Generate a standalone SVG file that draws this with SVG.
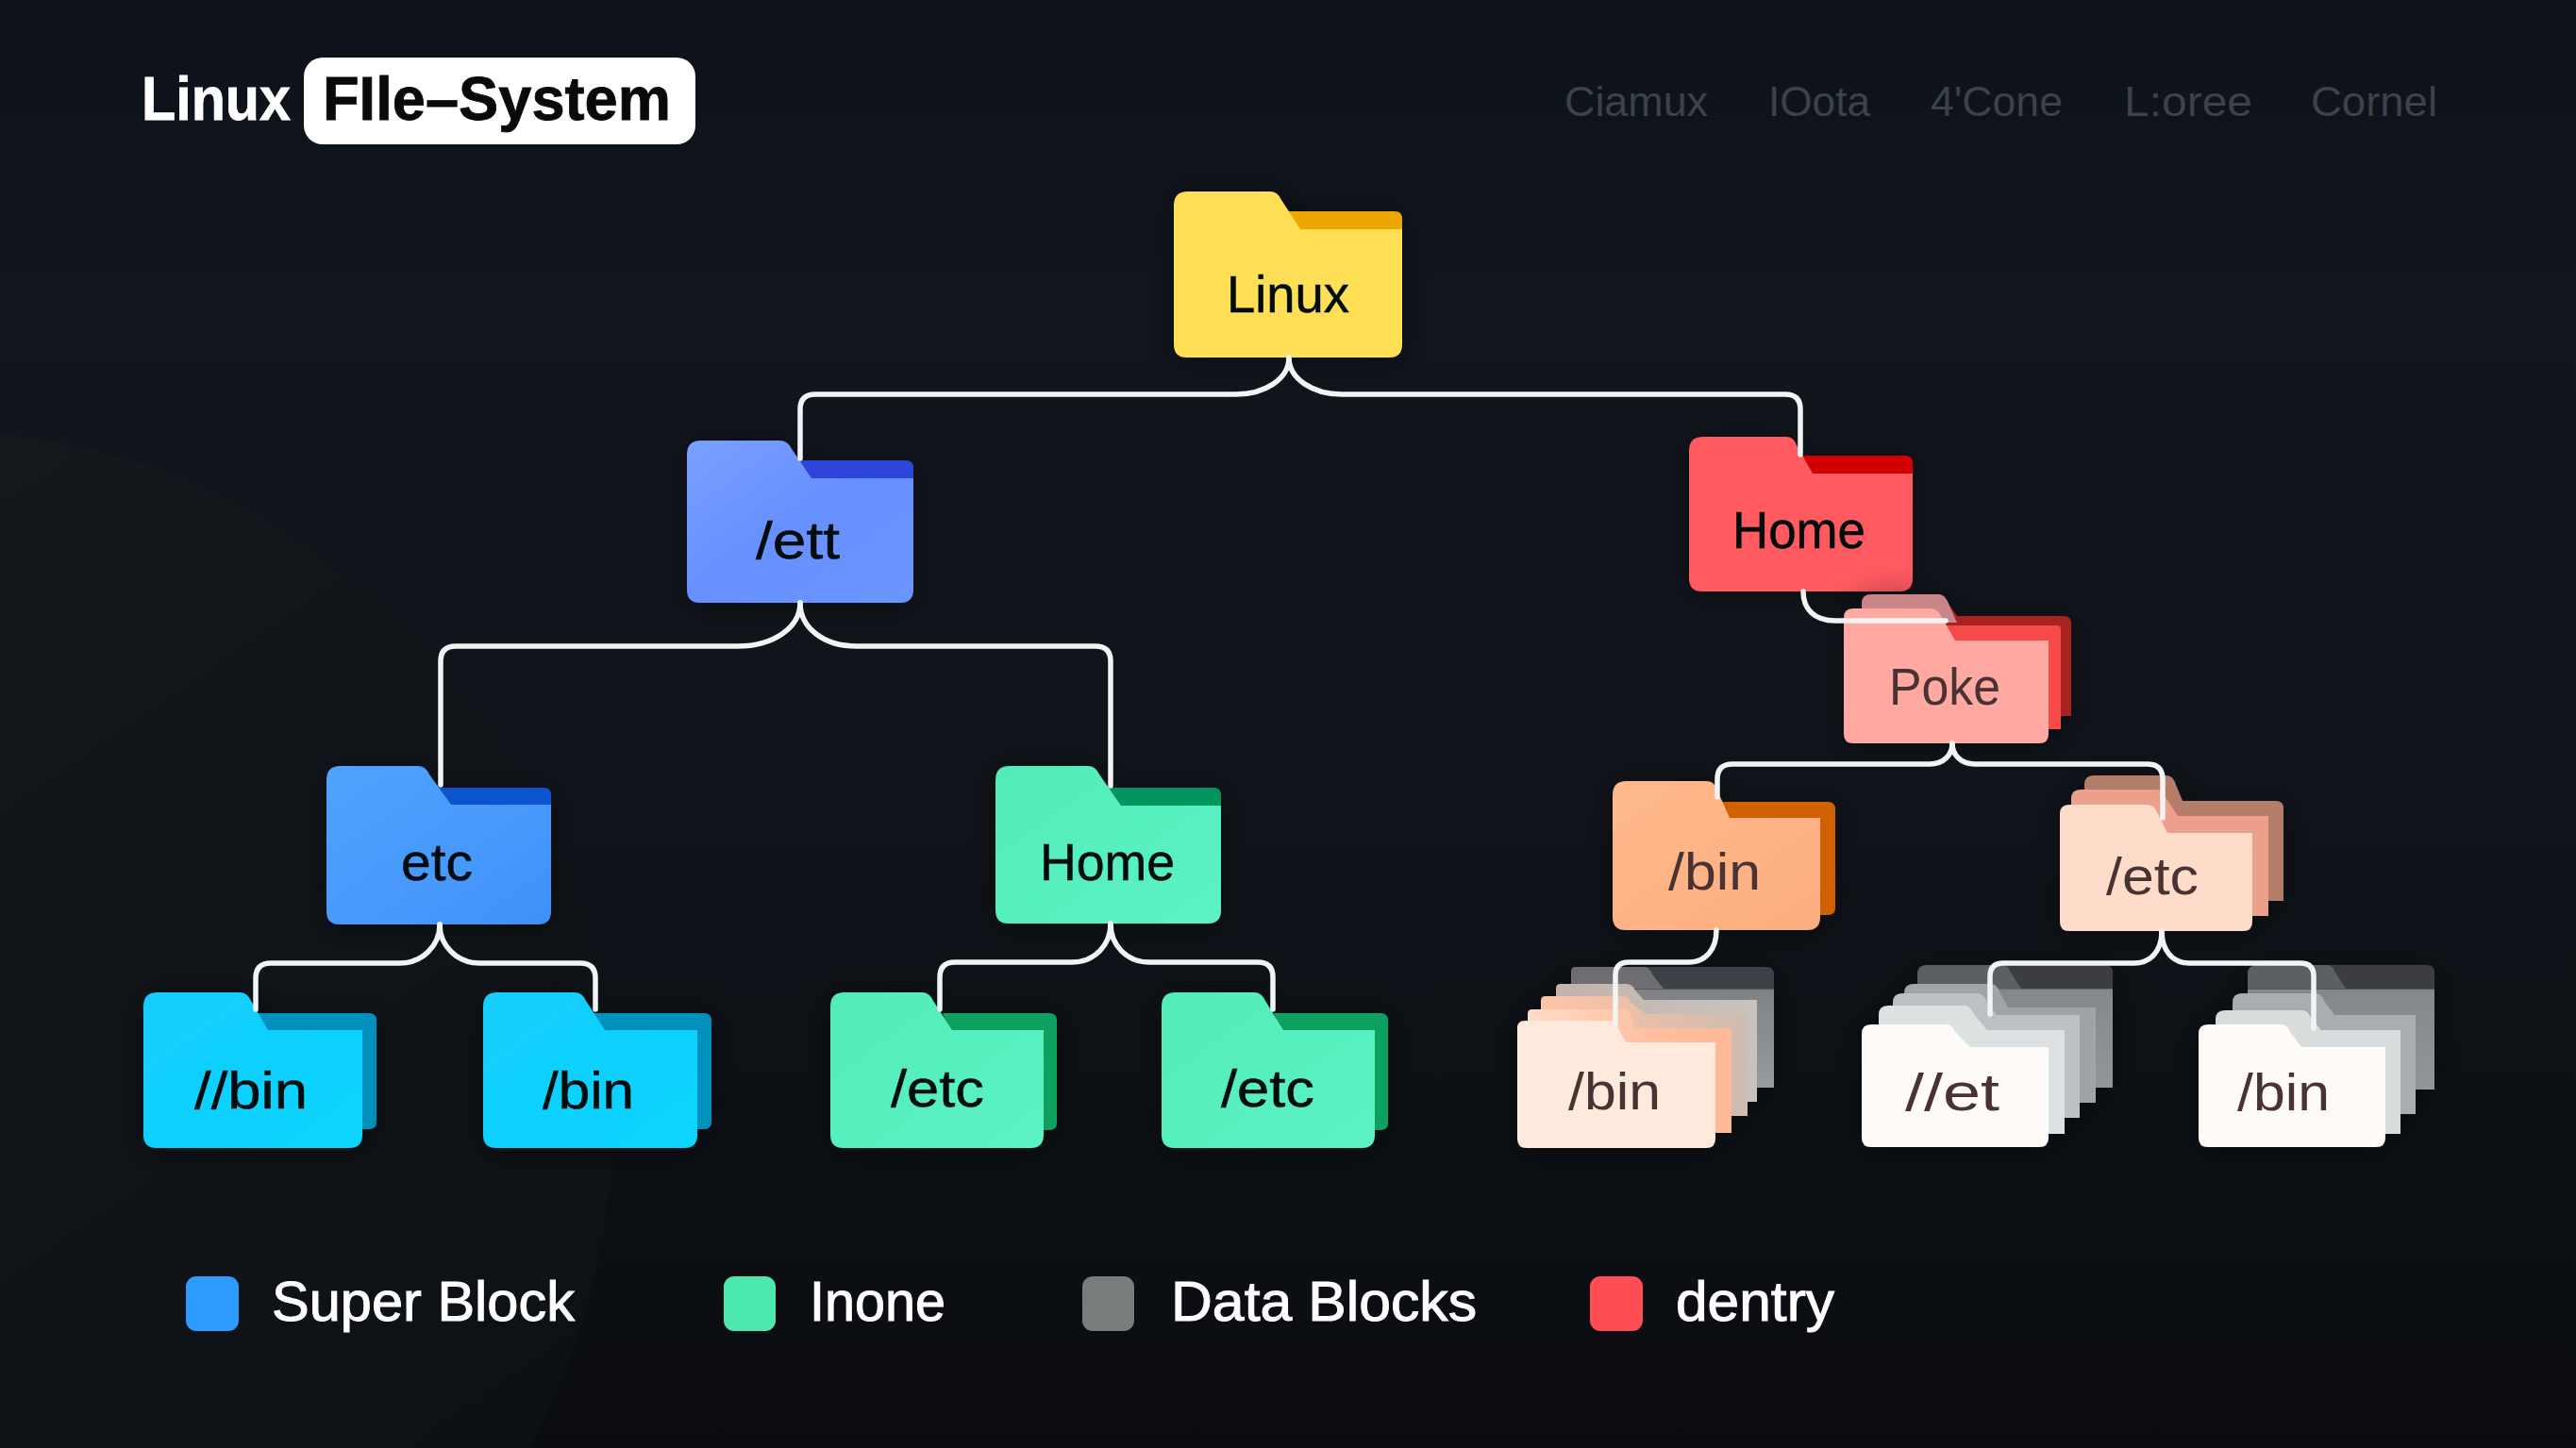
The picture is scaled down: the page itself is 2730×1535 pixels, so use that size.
<svg xmlns="http://www.w3.org/2000/svg" width="2730" height="1535" viewBox="0 0 2730 1535">
<style>
text{font-family:"Liberation Sans",Arial,sans-serif}
.lab{font-size:55px;fill:#05080c;stroke:#05080c;stroke-width:.5}
.dim{font-size:55px;fill:#4a3033}
.nav{font-size:44px;fill:#3c414a}
.leg{font-size:59px;fill:#fff;stroke:#fff;stroke-width:1}
.con{fill:none;stroke:#f1f3f4;stroke-width:5.5;stroke-linecap:round;stroke-linejoin:round}
.node{filter:url(#sh)}
</style>
<defs>
<filter id="sh" x="-15%" y="-15%" width="130%" height="130%"><feDropShadow dx="0" dy="4" stdDeviation="16" flood-color="#000" flood-opacity=".45"/></filter>
<linearGradient id="bg" x1="0" y1="0" x2="0" y2="1"><stop offset="0" stop-color="#0d1119"/><stop offset=".2" stop-color="#11151c"/><stop offset=".55" stop-color="#10141a"/><stop offset="1" stop-color="#0a0c10"/></linearGradient>
<linearGradient id="circ" x1="0" y1="0" x2="0.7" y2="1"><stop offset="0" stop-color="#181c21"/><stop offset=".5" stop-color="#11151a"/><stop offset="1" stop-color="#0d1013"/></linearGradient>
<linearGradient id="gblue" x1="0" y1="0" x2="1" y2="1"><stop offset="0" stop-color="#50a4fc"/><stop offset="1" stop-color="#3f91fb"/></linearGradient>
<linearGradient id="gett" x1="0" y1="0" x2="1" y2="1"><stop offset="0" stop-color="#7a9fff"/><stop offset=".5" stop-color="#6690ff"/><stop offset="1" stop-color="#6b96ff"/></linearGradient>
<linearGradient id="gcy" x1="0" y1="0" x2="1" y2="1"><stop offset="0" stop-color="#14cdfd"/><stop offset="1" stop-color="#0cd4ff"/></linearGradient>
<linearGradient id="ggr" x1="0" y1="0" x2="1" y2="1"><stop offset="0" stop-color="#52ecb8"/><stop offset="1" stop-color="#5cf2c4"/></linearGradient>
<linearGradient id="gor" x1="0" y1="0" x2="1" y2="1"><stop offset="0" stop-color="#ffb98c"/><stop offset="1" stop-color="#fbae80"/></linearGradient>
<linearGradient id="gp4" x1="0" y1="0" x2="0" y2="1"><stop offset=".18" stop-color="#3c3f46"/><stop offset=".19" stop-color="#7f8185"/><stop offset="1" stop-color="#9a9b9d"/></linearGradient>
<linearGradient id="gp3" x1="0" y1="0" x2="1" y2="0"><stop offset="0" stop-color="#c3b3a9"/><stop offset="1" stop-color="#c8c3bf"/></linearGradient>
<linearGradient id="gp2" x1="0" y1="0" x2="1" y2="0"><stop offset="0" stop-color="#ffc4a6"/><stop offset=".55" stop-color="#e5bfa9"/><stop offset="1" stop-color="#cdbcb1"/></linearGradient>
<linearGradient id="gp1" x1="0" y1="0" x2="1" y2="0"><stop offset="0" stop-color="#ffdcc8"/><stop offset=".6" stop-color="#ffbf9f"/><stop offset="1" stop-color="#ffb996"/></linearGradient>
<linearGradient id="g4w" x1="0" y1="0" x2="0" y2="1"><stop offset=".19" stop-color="#3a3d43"/><stop offset=".2" stop-color="#84888b"/><stop offset="1" stop-color="#90969a"/></linearGradient>
</defs>
<rect width="2730" height="1535" fill="url(#bg)"/>
<circle cx="-80" cy="1185" r="730" fill="url(#circ)"/>

<g id="title">
<text x="150" y="127" font-size="65" font-weight="700" fill="#fff" stroke="#fff" stroke-width=".8" textLength="158" lengthAdjust="spacingAndGlyphs">Linux</text>
<rect x="322" y="61" width="415" height="92" rx="20" fill="#fff"/>
<text x="342" y="127" font-size="65" font-weight="700" fill="#0a0a0a" stroke="#0a0a0a" stroke-width=".8" textLength="369" lengthAdjust="spacingAndGlyphs">FIle–System</text>
</g>
<g id="nav">
<text class="nav" x="1658" y="123" textLength="152" lengthAdjust="spacingAndGlyphs">Ciamux</text>
<text class="nav" x="1874" y="123" textLength="108" lengthAdjust="spacingAndGlyphs">IOota</text>
<text class="nav" x="2046" y="123" textLength="140" lengthAdjust="spacingAndGlyphs">4'Cone</text>
<text class="nav" x="2251" y="123" textLength="136" lengthAdjust="spacingAndGlyphs">L:oree</text>
<text class="nav" x="2449" y="123" textLength="134" lengthAdjust="spacingAndGlyphs">Cornel</text>
</g>

<g id="node-linux" class="node">
<path d="M1360 224H1478Q1486 224 1486 232V260H1378Z" fill="#eea600"/>
<path d="M1244 218Q1244 203 1259 203H1346Q1354 203 1358 212L1378 243H1486V365Q1486 379 1472 379H1258Q1244 379 1244 365Z" fill="#ffdf55"/>
<text class="lab" x="1300" y="331" textLength="130" lengthAdjust="spacingAndGlyphs">Linux</text>
</g>
<g id="node-ett" class="node">
<path d="M842 488H960Q968 488 968 496V525H860Z" fill="#2f44da"/>
<path d="M728 482Q728 467 743 467H826Q835 467 839 476L860 507H968V625Q968 639 954 639H742Q728 639 728 625Z" fill="url(#gett)"/>
<text class="lab" x="801" y="592" textLength="89" lengthAdjust="spacingAndGlyphs">/ett</text>
</g>
<g id="node-home-red" class="node">
<path d="M1905 483H2019Q2027 483 2027 491V520H1921Z" fill="#d20202"/>
<path d="M1790 478Q1790 463 1805 463H1893Q1901 463 1904 472L1921 502H2027V613Q2027 627 2013 627H1804Q1790 627 1790 613Z" fill="#ff5a60"/>
<text class="lab" x="1836" y="581" textLength="141" lengthAdjust="spacingAndGlyphs">Home</text>
</g>
<g id="node-poke" class="node">
<path d="M1973 640Q1973 630 1983 630H2055Q2061 630 2065 640L2074 653H2187Q2195 653 2195 661V759H2100V680H1973Z" fill="#a82222"/>
<path d="M1973 640Q1973 630 1983 630H2055Q2061 630 2065 640L2074 660H2040V650H1973Z" fill="#c98688"/>
<path d="M2060 663H2180Q2184 663 2184 667V773H2100Z" fill="#f64848"/>
<path d="M1954 655Q1954 645 1964 645H2045Q2053 645 2057 653L2072 679H2171V778Q2171 788 2161 788H1964Q1954 788 1954 778Z" fill="#ffa9a2"/>
<text class="dim" x="2002" y="747" textLength="118" lengthAdjust="spacingAndGlyphs">Poke</text>
</g>
<g id="node-etc-blue" class="node">
<path d="M458 835H576Q584 835 584 843V870H478Z" fill="#0d54cf"/>
<path d="M346 827Q346 812 361 812H443Q451 812 455 821L478 853H584V966Q584 980 570 980H360Q346 980 346 966Z" fill="url(#gblue)"/>
<text class="lab" x="425" y="933" textLength="76" lengthAdjust="spacingAndGlyphs">etc</text>
</g>
<g id="node-home-green" class="node">
<path d="M1170 835H1286Q1294 835 1294 843V870H1188Z" fill="#06945f"/>
<path d="M1055 827Q1055 812 1070 812H1153Q1161 812 1165 821L1188 854H1294V965Q1294 979 1280 979H1069Q1055 979 1055 965Z" fill="url(#ggr)"/>
<text class="lab" x="1102" y="933" textLength="143" lengthAdjust="spacingAndGlyphs">Home</text>
</g>
<g id="node-bin-a" class="node">
<path d="M270 1074H391Q399 1074 399 1082V1189Q399 1197 391 1197H330Z" fill="#0590bd"/>
<path d="M152 1067Q152 1052 167 1052H254Q262 1052 266 1061L284 1092H384V1203Q384 1217 370 1217H166Q152 1217 152 1203Z" fill="url(#gcy)"/>
<text class="lab" x="206" y="1175" textLength="120" lengthAdjust="spacingAndGlyphs">//bin</text>
</g>
<g id="node-bin-b" class="node">
<path d="M625 1074H746Q754 1074 754 1082V1189Q754 1197 746 1197H690Z" fill="#0590bd"/>
<path d="M512 1067Q512 1052 527 1052H609Q617 1052 621 1061L641 1092H739V1203Q739 1217 725 1217H526Q512 1217 512 1203Z" fill="url(#gcy)"/>
<text class="lab" x="575" y="1175" textLength="97" lengthAdjust="spacingAndGlyphs">/bin</text>
</g>
<g id="node-etc-g1" class="node">
<path d="M999 1074H1112Q1120 1074 1120 1082V1190Q1120 1198 1112 1198H1050Z" fill="#07a060"/>
<path d="M880 1067Q880 1052 895 1052H977Q985 1052 989 1061L1009 1092H1106V1203Q1106 1217 1092 1217H894Q880 1217 880 1203Z" fill="url(#ggr)"/>
<text class="lab" x="944" y="1173" textLength="99" lengthAdjust="spacingAndGlyphs">/etc</text>
</g>
<g id="node-etc-g2" class="node">
<path d="M1350 1074H1463Q1471 1074 1471 1082V1190Q1471 1198 1463 1198H1400Z" fill="#07a060"/>
<path d="M1231 1067Q1231 1052 1246 1052H1329Q1337 1052 1341 1061L1360 1092H1457V1203Q1457 1217 1443 1217H1245Q1231 1217 1231 1203Z" fill="url(#ggr)"/>
<text class="lab" x="1294" y="1173" textLength="99" lengthAdjust="spacingAndGlyphs">/etc</text>
</g>
<g id="node-bin-orange" class="node">
<path d="M1820 850H1937Q1945 850 1945 858V962Q1945 970 1937 970H1860Z" fill="#d06000"/>
<path d="M1709 843Q1709 828 1724 828H1809Q1817 828 1820 838L1833 867H1929V972Q1929 986 1915 986H1723Q1709 986 1709 972Z" fill="url(#gor)"/>
<text class="dim" x="1768" y="943" textLength="98" lengthAdjust="spacingAndGlyphs">/bin</text>
</g>
<g id="node-etc-peach" class="node">
<path d="M2209 832Q2209 822 2219 822H2296Q2303 822 2306 832L2313 849H2412Q2420 849 2420 857V955H2209Z" fill="#b47d6a"/>
<path d="M2195 847Q2195 837 2205 837H2285Q2292 837 2295 845L2308 865H2404V971H2195Z" fill="#ec9f8b"/>
<path d="M2183 863Q2183 853 2193 853H2275Q2283 853 2286 861L2297 883H2387V977Q2387 987 2377 987H2193Q2183 987 2183 977Z" fill="#ffdcc9"/>
<text class="dim" x="2232" y="948" textLength="98" lengthAdjust="spacingAndGlyphs">/etc</text>
</g>

<g id="node-bin-fan" class="node">
<path d="M1665 1030Q1665 1025 1670 1025H1872Q1880 1025 1880 1033V1153H1665Z" fill="url(#gp4)"/>
<path d="M1665 1030Q1665 1025 1670 1025H1742Q1748 1025 1751 1033L1763 1048H1665Z" fill="#6e6e72"/>
<path d="M1649 1048Q1649 1043 1654 1043H1724Q1730 1043 1733 1050L1742 1060H1862V1168H1649Z" fill="url(#gp3)"/>
<path d="M1633 1061Q1633 1056 1638 1056H1720Q1726 1056 1729 1063L1745 1075H1852V1183H1633Z" fill="url(#gp2)"/>
<path d="M1619 1075Q1619 1070 1624 1070H1722Q1726 1070 1728 1076L1733 1090H1835V1201H1619Z" fill="url(#gp1)"/>
<path d="M1608 1090Q1608 1082 1616 1082H1706Q1712 1082 1715 1090L1723 1105H1818V1207Q1818 1217 1808 1217H1618Q1608 1217 1608 1207Z" fill="#ffe9dc"/>
<text class="dim" x="1662" y="1176" textLength="98" lengthAdjust="spacingAndGlyphs">/bin</text>
</g>
<g id="node-et-fan" class="node">
<path d="M2032 1033Q2032 1023 2042 1023H2231Q2239 1023 2239 1031V1153H2032Z" fill="url(#g4w)"/>
<path d="M2032 1033Q2032 1023 2042 1023H2122Q2128 1023 2131 1031L2142 1048H2032Z" fill="#5b5e63"/>
<path d="M2018 1053Q2018 1043 2028 1043H2110Q2116 1043 2119 1051L2128 1068H2221V1169H2018Z" fill="#a0a4a6"/>
<path d="M2006 1063Q2006 1053 2016 1053H2096Q2102 1053 2105 1061L2116 1076H2204V1185H2006Z" fill="#bcc1c3"/>
<path d="M1991 1076Q1991 1066 2001 1066H2082Q2088 1066 2091 1074L2106 1092H2188V1202H1991Z" fill="#dde1e1"/>
<path d="M1973 1096Q1973 1086 1983 1086H2063Q2069 1086 2072 1094L2088 1110H2171V1206Q2171 1216 2161 1216H1983Q1973 1216 1973 1206Z" fill="#fffbf8"/>
<text class="dim" x="2019" y="1177" textLength="100" lengthAdjust="spacingAndGlyphs">//et</text>
</g>
<g id="node-bin-white" class="node">
<path d="M2382 1033Q2382 1023 2392 1023H2572Q2580 1023 2580 1031V1155H2382Z" fill="url(#g4w)"/>
<path d="M2382 1033Q2382 1023 2392 1023H2466Q2472 1023 2475 1031L2486 1048H2382Z" fill="#5b5e63"/>
<path d="M2366 1063Q2366 1053 2376 1053H2454Q2460 1053 2463 1061L2474 1076H2560V1181H2366Z" fill="#a8adaf"/>
<path d="M2348 1081Q2348 1071 2358 1071H2440Q2446 1071 2449 1079L2460 1092H2544V1202H2348Z" fill="#d8dcdc"/>
<path d="M2330 1096Q2330 1086 2340 1086H2418Q2424 1086 2427 1094L2439 1110H2528V1206Q2528 1216 2518 1216H2340Q2330 1216 2330 1206Z" fill="#fffbf8"/>
<text class="dim" x="2371" y="1177" textLength="98" lengthAdjust="spacingAndGlyphs">/bin</text>
</g>

<g id="connectors">
<path class="con" d="M1366 379C1366 402 1340 418 1310 418H864Q848 418 848 434V486"/>
<path class="con" d="M1366 379C1366 402 1392 418 1422 418H1892Q1908 418 1908 434V482"/>
<path class="con" d="M848 639C848 665 820 685 782 685H483Q467 685 467 701V832"/>
<path class="con" d="M848 639C848 665 872 685 908 685H1161Q1177 685 1177 701V833"/>
<path class="con" d="M466 980C466 1002 448 1021 424 1021H287Q271 1021 271 1037V1070"/>
<path class="con" d="M466 980C466 1002 484 1021 508 1021H615Q631 1021 631 1037V1070"/>
<path class="con" d="M1177 979C1177 1002 1160 1020 1136 1020H1012Q996 1020 996 1036V1070"/>
<path class="con" d="M1177 979C1177 1002 1194 1020 1218 1020H1333Q1349 1020 1349 1036V1070"/>
<path class="con" d="M1911 627C1911 645 1922 658 1945 658H2062"/>
<path class="con" d="M2069 788C2069 800 2060 810 2045 810H1836Q1820 810 1820 826V845"/>
<path class="con" d="M2069 788C2069 800 2078 810 2093 810H2276Q2292 810 2292 826V867"/>
<path class="con" d="M1819 986C1819 1006 1808 1020 1790 1020H1726Q1712 1020 1712 1034V1087"/>
<path class="con" d="M2291 987C2291 1007 2280 1021 2262 1021H2123Q2109 1021 2109 1035V1075"/>
<path class="con" d="M2291 987C2291 1007 2302 1021 2320 1021H2438Q2452 1021 2452 1035V1090"/>
</g>

<g id="legend">
<rect x="197" y="1353" width="56" height="58" rx="11" fill="#2d9bff"/>
<text class="leg" x="288" y="1400" textLength="321" lengthAdjust="spacingAndGlyphs">Super Block</text>
<rect x="767" y="1353" width="55" height="58" rx="11" fill="#4de8ad"/>
<text class="leg" x="858" y="1400" textLength="144" lengthAdjust="spacingAndGlyphs">Inone</text>
<rect x="1147" y="1353" width="55" height="58" rx="11" fill="#787c7d"/>
<text class="leg" x="1241" y="1400" textLength="324" lengthAdjust="spacingAndGlyphs">Data Blocks</text>
<rect x="1685" y="1353" width="56" height="58" rx="11" fill="#ff4d56"/>
<text class="leg" x="1776" y="1400" textLength="168" lengthAdjust="spacingAndGlyphs">dentry</text>
</g>
</svg>
